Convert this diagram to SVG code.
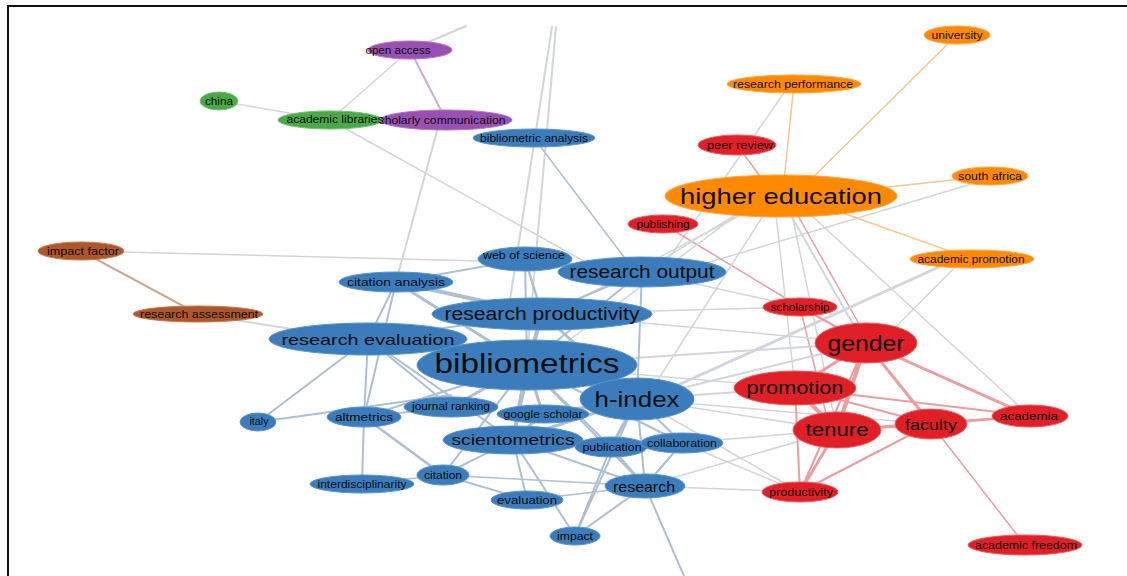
<svg xmlns="http://www.w3.org/2000/svg" width="1127" height="576" viewBox="0 0 1127 576">
<style>
text{font-family:"Liberation Sans",Arial,sans-serif;fill:#0d0d0d;text-anchor:middle;dominant-baseline:central}
.s{font-size:10px}.m{font-size:15px}.l{font-size:18px}.xl{font-size:22px}.xxl{font-size:27px}
.blue{fill:#3b7cbc;stroke:#5b93c9;stroke-width:1}
.red{fill:#e11f27;stroke:#ee5a5f;stroke-width:1}
.orange{fill:#ff8a00;stroke:#ffa640;stroke-width:1}
.purple{fill:#9a4fb2;stroke:#b077c3;stroke-width:1}
.green{fill:#4aa946;stroke:#75bf70;stroke-width:1}
.brown{fill:#b0572a;stroke:#c57a52;stroke-width:1}
#edges line{fill:none;stroke-linecap:round}
.g{stroke:#d2d5db}.b{stroke:#adbfd1}.r{stroke:#eb9ea2}.o{stroke:#f8c590}.p{stroke:#cdabd9}.br{stroke:#cba690}
</style>
<rect x="0" y="0" width="1127" height="576" fill="#ffffff"/>
<line x1="7" y1="6" x2="1127" y2="6" stroke="#111" stroke-width="2"/>
<line x1="8" y1="6" x2="8" y2="576" stroke="#111" stroke-width="2"/>
<g id="edges">
<line class="g" x1="410" y1="50" x2="466" y2="26" stroke-width="2"/>
<line class="p" x1="410" y1="50" x2="446" y2="120" stroke-width="2"/>
<line class="g" x1="410" y1="50" x2="330" y2="120" stroke-width="1.5"/>
<line class="g" x1="219" y1="101" x2="330" y2="120" stroke-width="1.5"/>
<line class="g" x1="330" y1="120" x2="600" y2="270" stroke-width="1.5"/>
<line class="g" x1="440" y1="120" x2="396" y2="282" stroke-width="2"/>
<line class="g" x1="552" y1="27" x2="510" y2="300" stroke-width="2"/>
<line class="g" x1="556" y1="27" x2="528" y2="345" stroke-width="2"/>
<line class="b" x1="534" y1="138" x2="630" y2="265" stroke-width="1.5"/>
<line class="g" x1="81" y1="251" x2="525" y2="262" stroke-width="1.5"/>
<line class="br" x1="81" y1="251" x2="198" y2="314" stroke-width="2"/>
<line class="g" x1="198" y1="314" x2="330" y2="335" stroke-width="2"/>
<line class="o" x1="957" y1="35" x2="800" y2="190" stroke-width="1.5"/>
<line class="o" x1="794" y1="84" x2="783" y2="190" stroke-width="1.5"/>
<line class="g" x1="786" y1="90" x2="662" y2="268" stroke-width="1.5"/>
<line class="o" x1="990" y1="176" x2="860" y2="190" stroke-width="1.5"/>
<line class="g" x1="985" y1="180" x2="690" y2="268" stroke-width="1.5"/>
<line class="o" x1="820" y1="205" x2="972" y2="259" stroke-width="1.5"/>
<line class="r" x1="737" y1="145" x2="770" y2="190" stroke-width="1.5"/>
<line class="r" x1="663" y1="224" x2="800" y2="307" stroke-width="1.5"/>
<line class="g" x1="785" y1="205" x2="862" y2="340" stroke-width="2"/>
<line class="r" x1="792" y1="205" x2="868" y2="340" stroke-width="1.5"/>
<line class="g" x1="800" y1="205" x2="1030" y2="416" stroke-width="1.5"/>
<line class="g" x1="770" y1="205" x2="645" y2="400" stroke-width="1.5"/>
<line class="g" x1="760" y1="205" x2="550" y2="314" stroke-width="1.5"/>
<line class="g" x1="750" y1="205" x2="540" y2="362" stroke-width="1.5"/>
<line class="g" x1="775" y1="205" x2="795" y2="388" stroke-width="1.5"/>
<line class="g" x1="790" y1="205" x2="837" y2="430" stroke-width="1.5"/>
<line class="g" x1="760" y1="200" x2="642" y2="272" stroke-width="1.5"/>
<line class="g" x1="960" y1="262" x2="880" y2="343" stroke-width="1.5"/>
<line class="g" x1="950" y1="262" x2="645" y2="400" stroke-width="3"/>
<line class="r" x1="800" y1="307" x2="866" y2="343" stroke-width="2"/>
<line class="r" x1="800" y1="307" x2="830" y2="430" stroke-width="1.5"/>
<line class="g" x1="800" y1="307" x2="642" y2="272" stroke-width="1.5"/>
<line class="g" x1="800" y1="307" x2="542" y2="314" stroke-width="1.5"/>
<line class="g" x1="866" y1="343" x2="527" y2="365" stroke-width="2"/>
<line class="g" x1="866" y1="343" x2="542" y2="314" stroke-width="1.5"/>
<line class="g" x1="866" y1="343" x2="637" y2="399" stroke-width="2"/>
<line class="g" x1="795" y1="388" x2="637" y2="399" stroke-width="2"/>
<line class="g" x1="795" y1="388" x2="527" y2="365" stroke-width="1.5"/>
<line class="g" x1="837" y1="430" x2="645" y2="486" stroke-width="1.5"/>
<line class="g" x1="837" y1="430" x2="682" y2="443" stroke-width="1.5"/>
<line class="g" x1="837" y1="430" x2="637" y2="399" stroke-width="1.5"/>
<line class="g" x1="800" y1="492" x2="645" y2="486" stroke-width="1.5"/>
<line class="g" x1="800" y1="492" x2="682" y2="443" stroke-width="1.5"/>
<line class="g" x1="800" y1="492" x2="637" y2="399" stroke-width="1.5"/>
<line class="g" x1="931" y1="424" x2="637" y2="399" stroke-width="1.5"/>
<line class="r" x1="866" y1="343" x2="795" y2="388" stroke-width="3"/>
<line class="r" x1="866" y1="343" x2="837" y2="430" stroke-width="4"/>
<line class="r" x1="866" y1="343" x2="931" y2="424" stroke-width="3"/>
<line class="r" x1="866" y1="343" x2="1030" y2="416" stroke-width="3"/>
<line class="r" x1="866" y1="343" x2="800" y2="492" stroke-width="2"/>
<line class="r" x1="795" y1="388" x2="837" y2="430" stroke-width="4"/>
<line class="r" x1="795" y1="388" x2="931" y2="424" stroke-width="2"/>
<line class="r" x1="795" y1="388" x2="1030" y2="416" stroke-width="2"/>
<line class="r" x1="795" y1="388" x2="800" y2="492" stroke-width="2"/>
<line class="r" x1="837" y1="430" x2="931" y2="424" stroke-width="3"/>
<line class="r" x1="837" y1="430" x2="800" y2="492" stroke-width="3"/>
<line class="r" x1="837" y1="430" x2="1030" y2="416" stroke-width="2"/>
<line class="r" x1="931" y1="424" x2="1030" y2="416" stroke-width="2.5"/>
<line class="r" x1="931" y1="424" x2="800" y2="492" stroke-width="2"/>
<line class="r" x1="931" y1="424" x2="1025" y2="545" stroke-width="1.5"/>
<line class="b" x1="396" y1="282" x2="542" y2="314" stroke-width="4"/>
<line class="b" x1="396" y1="282" x2="527" y2="365" stroke-width="3"/>
<line class="b" x1="396" y1="282" x2="368" y2="339" stroke-width="2"/>
<line class="b" x1="396" y1="282" x2="525" y2="259" stroke-width="2"/>
<line class="b" x1="396" y1="282" x2="364" y2="417" stroke-width="2"/>
<line class="b" x1="525" y1="259" x2="542" y2="314" stroke-width="2.5"/>
<line class="b" x1="525" y1="259" x2="527" y2="365" stroke-width="2"/>
<line class="b" x1="525" y1="259" x2="642" y2="272" stroke-width="2"/>
<line class="b" x1="368" y1="339" x2="258" y2="422" stroke-width="2"/>
<line class="b" x1="368" y1="339" x2="364" y2="417" stroke-width="2"/>
<line class="b" x1="368" y1="339" x2="527" y2="365" stroke-width="3"/>
<line class="b" x1="368" y1="339" x2="542" y2="314" stroke-width="2"/>
<line class="b" x1="368" y1="339" x2="513" y2="440" stroke-width="2"/>
<line class="b" x1="368" y1="339" x2="451" y2="407" stroke-width="2"/>
<line class="b" x1="542" y1="314" x2="527" y2="365" stroke-width="4"/>
<line class="b" x1="542" y1="314" x2="637" y2="399" stroke-width="3"/>
<line class="b" x1="542" y1="314" x2="642" y2="272" stroke-width="2"/>
<line class="b" x1="542" y1="314" x2="513" y2="440" stroke-width="2"/>
<line class="b" x1="527" y1="365" x2="513" y2="440" stroke-width="4"/>
<line class="b" x1="527" y1="365" x2="451" y2="407" stroke-width="3"/>
<line class="b" x1="527" y1="365" x2="543" y2="414" stroke-width="3"/>
<line class="b" x1="527" y1="365" x2="637" y2="399" stroke-width="4"/>
<line class="b" x1="527" y1="365" x2="364" y2="417" stroke-width="2"/>
<line class="b" x1="527" y1="365" x2="443" y2="475" stroke-width="2"/>
<line class="b" x1="527" y1="365" x2="611" y2="447" stroke-width="2"/>
<line class="b" x1="527" y1="365" x2="645" y2="486" stroke-width="2"/>
<line class="b" x1="527" y1="365" x2="682" y2="443" stroke-width="2"/>
<line class="b" x1="527" y1="365" x2="642" y2="272" stroke-width="2"/>
<line class="b" x1="637" y1="399" x2="543" y2="414" stroke-width="3"/>
<line class="b" x1="637" y1="399" x2="611" y2="447" stroke-width="3"/>
<line class="b" x1="637" y1="399" x2="682" y2="443" stroke-width="2"/>
<line class="b" x1="637" y1="399" x2="645" y2="486" stroke-width="2"/>
<line class="b" x1="637" y1="399" x2="513" y2="440" stroke-width="3"/>
<line class="b" x1="637" y1="399" x2="575" y2="536" stroke-width="2"/>
<line class="b" x1="637" y1="399" x2="642" y2="272" stroke-width="2"/>
<line class="b" x1="364" y1="417" x2="362" y2="484" stroke-width="2"/>
<line class="b" x1="364" y1="417" x2="443" y2="475" stroke-width="2.5"/>
<line class="b" x1="364" y1="417" x2="451" y2="407" stroke-width="2"/>
<line class="b" x1="258" y1="422" x2="451" y2="395" stroke-width="2"/>
<line class="b" x1="443" y1="475" x2="513" y2="440" stroke-width="2"/>
<line class="b" x1="443" y1="475" x2="527" y2="500" stroke-width="2"/>
<line class="b" x1="443" y1="475" x2="362" y2="484" stroke-width="1.5"/>
<line class="b" x1="443" y1="475" x2="645" y2="486" stroke-width="1.5"/>
<line class="b" x1="513" y1="440" x2="527" y2="500" stroke-width="2"/>
<line class="b" x1="513" y1="440" x2="575" y2="536" stroke-width="2"/>
<line class="b" x1="513" y1="440" x2="645" y2="486" stroke-width="2"/>
<line class="b" x1="513" y1="440" x2="611" y2="447" stroke-width="2"/>
<line class="b" x1="513" y1="440" x2="543" y2="414" stroke-width="3"/>
<line class="b" x1="645" y1="486" x2="575" y2="536" stroke-width="2"/>
<line class="b" x1="645" y1="486" x2="527" y2="500" stroke-width="1.5"/>
<line class="b" x1="645" y1="486" x2="682" y2="443" stroke-width="2"/>
<line class="b" x1="645" y1="486" x2="611" y2="447" stroke-width="2"/>
<line class="b" x1="645" y1="486" x2="684" y2="576" stroke-width="2"/>
<line class="b" x1="575" y1="536" x2="611" y2="447" stroke-width="2"/>
</g>
<g id="n-open-access"><ellipse class="purple" cx="410" cy="50" rx="42" ry="9"/><text class="s" x="398" y="50" textLength="65" lengthAdjust="spacingAndGlyphs">open access</text></g>
<g id="n-scholarly-communication"><ellipse class="purple" cx="446" cy="120" rx="66" ry="10"/><text class="s" x="439" y="120" textLength="133" lengthAdjust="spacingAndGlyphs">scholarly communication</text></g>
<g id="n-china"><ellipse class="green" cx="219" cy="101" rx="19" ry="9"/><text class="s" x="219" y="101" textLength="28" lengthAdjust="spacingAndGlyphs">china</text></g>
<g id="n-academic-libraries"><ellipse class="green" cx="330" cy="120" rx="52" ry="9"/><text class="s" x="335" y="119" textLength="97" lengthAdjust="spacingAndGlyphs">academic libraries</text></g>
<g id="n-bibliometric-analysis"><ellipse class="blue" cx="534" cy="138" rx="61" ry="9"/><text class="s" x="534" y="138" textLength="108" lengthAdjust="spacingAndGlyphs">bibliometric analysis</text></g>
<g id="n-impact-factor"><ellipse class="brown" cx="81" cy="251" rx="43" ry="9"/><text class="s" x="83" y="251" textLength="72" lengthAdjust="spacingAndGlyphs">impact factor</text></g>
<g id="n-research-assessment"><ellipse class="brown" cx="198" cy="314" rx="65" ry="8"/><text class="s" x="199" y="314" textLength="118" lengthAdjust="spacingAndGlyphs">research assessment</text></g>
<g id="n-web-of-science"><ellipse class="blue" cx="525" cy="259" rx="47" ry="12"/><text class="s" x="524" y="255" textLength="82" lengthAdjust="spacingAndGlyphs">web of science</text></g>
<g id="n-research-output"><ellipse class="blue" cx="642" cy="272" rx="84" ry="15"/><text class="l" x="642" y="272" textLength="145" lengthAdjust="spacingAndGlyphs">research output</text></g>
<g id="n-citation-analysis"><ellipse class="blue" cx="396" cy="282" rx="57" ry="10"/><text class="s" x="396" y="282" textLength="98" lengthAdjust="spacingAndGlyphs">citation analysis</text></g>
<g id="n-research-productivity"><ellipse class="blue" cx="542" cy="314" rx="110" ry="16"/><text class="l" x="542" y="314" textLength="195" lengthAdjust="spacingAndGlyphs">research productivity</text></g>
<g id="n-research-evaluation"><ellipse class="blue" cx="368" cy="339" rx="99" ry="16"/><text class="m" x="368" y="339" textLength="173" lengthAdjust="spacingAndGlyphs">research evaluation</text></g>
<g id="n-bibliometrics"><ellipse class="blue" cx="527" cy="365" rx="110" ry="25"/><text class="xxl" x="527" y="364" textLength="185" lengthAdjust="spacingAndGlyphs">bibliometrics</text></g>
<g id="n-h-index"><ellipse class="blue" cx="637" cy="399" rx="57" ry="21"/><text class="xl" x="637" y="399" textLength="85" lengthAdjust="spacingAndGlyphs">h-index</text></g>
<g id="n-italy"><ellipse class="blue" cx="258" cy="422" rx="18" ry="9"/><text class="s" x="259" y="421" textLength="19" lengthAdjust="spacingAndGlyphs">italy</text></g>
<g id="n-altmetrics"><ellipse class="blue" cx="364" cy="417" rx="37" ry="10"/><text class="s" x="364" y="417" textLength="58" lengthAdjust="spacingAndGlyphs">altmetrics</text></g>
<g id="n-journal-ranking"><ellipse class="blue" cx="451" cy="407" rx="47" ry="10"/><text class="s" x="451" y="406" textLength="78" lengthAdjust="spacingAndGlyphs">journal ranking</text></g>
<g id="n-google-scholar"><ellipse class="blue" cx="543" cy="414" rx="46" ry="9"/><text class="s" x="543" y="414" textLength="79" lengthAdjust="spacingAndGlyphs">google scholar</text></g>
<g id="n-scientometrics"><ellipse class="blue" cx="513" cy="440" rx="70" ry="14"/><text class="m" x="513" y="439" textLength="123" lengthAdjust="spacingAndGlyphs">scientometrics</text></g>
<g id="n-publication"><ellipse class="blue" cx="611" cy="447" rx="36" ry="10"/><text class="s" x="612" y="447" textLength="59" lengthAdjust="spacingAndGlyphs">publication</text></g>
<g id="n-collaboration"><ellipse class="blue" cx="682" cy="443" rx="41" ry="10"/><text class="s" x="682" y="443" textLength="70" lengthAdjust="spacingAndGlyphs">collaboration</text></g>
<g id="n-research"><ellipse class="blue" cx="645" cy="486" rx="40" ry="12"/><text class="m" x="644" y="486" textLength="62" lengthAdjust="spacingAndGlyphs">research</text></g>
<g id="n-evaluation"><ellipse class="blue" cx="527" cy="500" rx="36" ry="9"/><text class="s" x="527" y="500" textLength="60" lengthAdjust="spacingAndGlyphs">evaluation</text></g>
<g id="n-impact"><ellipse class="blue" cx="575" cy="536" rx="25" ry="9"/><text class="s" x="575" y="536" textLength="36" lengthAdjust="spacingAndGlyphs">impact</text></g>
<g id="n-citation"><ellipse class="blue" cx="443" cy="475" rx="26" ry="10"/><text class="s" x="443" y="475" textLength="38" lengthAdjust="spacingAndGlyphs">citation</text></g>
<g id="n-interdisciplinarity"><ellipse class="blue" cx="362" cy="484" rx="52" ry="9"/><text class="s" x="362" y="484" textLength="89" lengthAdjust="spacingAndGlyphs">interdisciplinarity</text></g>
<g id="n-university"><ellipse class="orange" cx="957" cy="35" rx="33" ry="9"/><text class="s" x="957" y="35" textLength="51" lengthAdjust="spacingAndGlyphs">university</text></g>
<g id="n-research-performance"><ellipse class="orange" cx="794" cy="84" rx="67" ry="9"/><text class="s" x="793" y="84" textLength="120" lengthAdjust="spacingAndGlyphs">research performance</text></g>
<g id="n-higher-education"><ellipse class="orange" cx="781" cy="196" rx="116" ry="21"/><text class="xl" x="781" y="196" textLength="202" lengthAdjust="spacingAndGlyphs">higher education</text></g>
<g id="n-south-africa"><ellipse class="orange" cx="990" cy="176" rx="38" ry="9"/><text class="s" x="990" y="176" textLength="64" lengthAdjust="spacingAndGlyphs">south africa</text></g>
<g id="n-academic-promotion"><ellipse class="orange" cx="972" cy="259" rx="62" ry="9"/><text class="s" x="971" y="259" textLength="107" lengthAdjust="spacingAndGlyphs">academic promotion</text></g>
<g id="n-peer-review"><ellipse class="red" cx="737" cy="145" rx="39" ry="10"/><text class="s" x="740" y="145" textLength="66" lengthAdjust="spacingAndGlyphs">peer review</text></g>
<g id="n-publishing"><ellipse class="red" cx="663" cy="224" rx="35" ry="9"/><text class="s" x="663" y="224" textLength="53" lengthAdjust="spacingAndGlyphs">publishing</text></g>
<g id="n-scholarship"><ellipse class="red" cx="800" cy="307" rx="37" ry="9"/><text class="s" x="800" y="307" textLength="59" lengthAdjust="spacingAndGlyphs">scholarship</text></g>
<g id="n-gender"><ellipse class="red" cx="866" cy="343" rx="51" ry="20"/><text class="xl" x="866" y="343" textLength="77" lengthAdjust="spacingAndGlyphs">gender</text></g>
<g id="n-promotion"><ellipse class="red" cx="795" cy="388" rx="61" ry="17"/><text class="l" x="795" y="388" textLength="97" lengthAdjust="spacingAndGlyphs">promotion</text></g>
<g id="n-tenure"><ellipse class="red" cx="837" cy="430" rx="44" ry="18"/><text class="l" x="837" y="430" textLength="63" lengthAdjust="spacingAndGlyphs">tenure</text></g>
<g id="n-faculty"><ellipse class="red" cx="931" cy="424" rx="36" ry="15"/><text class="m" x="931" y="424" textLength="52" lengthAdjust="spacingAndGlyphs">faculty</text></g>
<g id="n-academia"><ellipse class="red" cx="1030" cy="416" rx="38" ry="11"/><text class="s" x="1029" y="416" textLength="58" lengthAdjust="spacingAndGlyphs">academia</text></g>
<g id="n-productivity"><ellipse class="red" cx="800" cy="492" rx="38" ry="10"/><text class="s" x="801" y="492" textLength="64" lengthAdjust="spacingAndGlyphs">productivity</text></g>
<g id="n-academic-freedom"><ellipse class="red" cx="1025" cy="545" rx="57" ry="10"/><text class="s" x="1026" y="545" textLength="102" lengthAdjust="spacingAndGlyphs">academic freedom</text></g>
</svg>
